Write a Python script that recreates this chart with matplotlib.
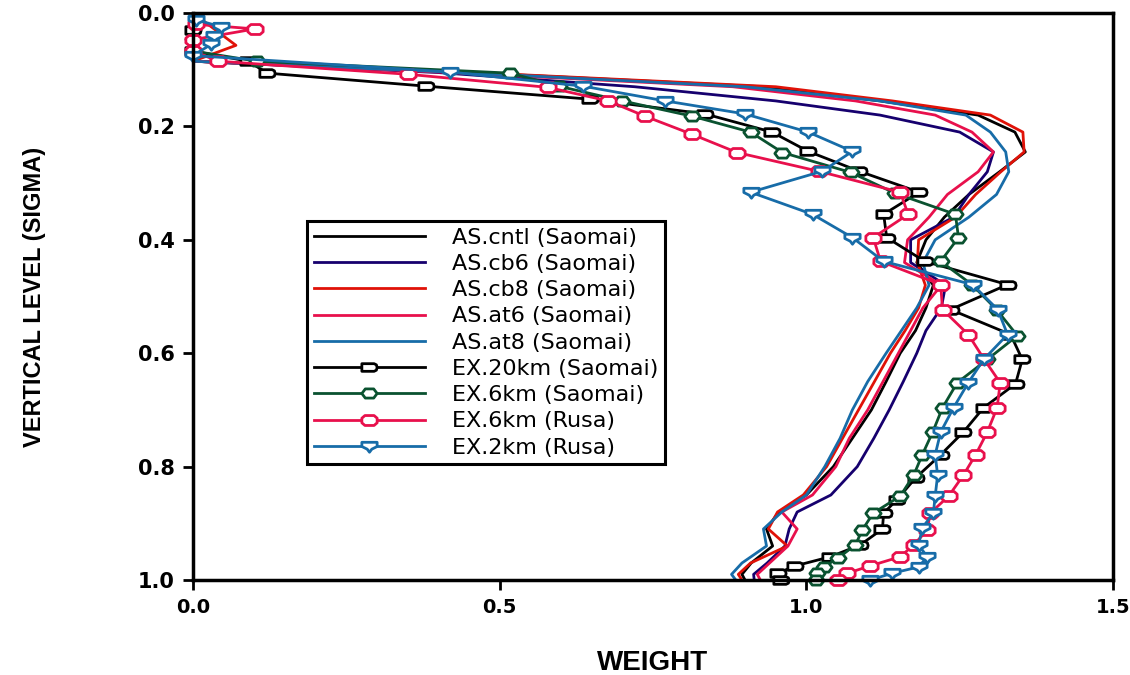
import numpy as np
import matplotlib
matplotlib.use("Agg")
from matplotlib import pyplot as plt
from matplotlib.path import Path

# Sigma levels used by the AS profiles
as_sigma = [0.0, 0.057, 0.085, 0.105, 0.13, 0.155, 0.18, 0.21, 0.245, 0.28, 0.32, 0.36, 0.40, 0.44,
            0.48, 0.52, 0.56, 0.60, 0.65, 0.70, 0.75, 0.80, 0.85, 0.88, 0.91, 0.94, 0.97, 0.99, 1.0]

as_cntl = [0.0, 0.0, 0.0, 0.45, 0.93, 1.12, 1.28, 1.34, 1.357, 1.315, 1.265, 1.225, 1.195, 1.18,
           1.207, 1.195, 1.178, 1.153, 1.13, 1.106, 1.075, 1.044, 1.0, 0.955, 0.935, 0.945, 0.91, 0.895, 0.90]
as_cb6 = [0.0, 0.0, 0.0, 0.40, 0.72, 0.95, 1.12, 1.25, 1.305, 1.295, 1.265, 1.24, 1.17, 1.17,
          1.227, 1.22, 1.195, 1.18, 1.158, 1.135, 1.11, 1.083, 1.04, 0.985, 0.972, 0.965, 0.936, 0.914, 0.915]
as_cb8 = [0.0, 0.07, 0.0, 0.46, 0.95, 1.14, 1.30, 1.353, 1.355, 1.317, 1.276, 1.243, 1.183, 1.181,
          1.194, 1.183, 1.161, 1.137, 1.111, 1.085, 1.059, 1.033, 0.995, 0.953, 0.938, 0.969, 0.909, 0.889, 0.895]
as_at6 = [0.0, 0.0, 0.0, 0.42, 0.88, 1.08, 1.21, 1.27, 1.305, 1.28, 1.23, 1.2, 1.165, 1.16,
          1.22, 1.19, 1.17, 1.15, 1.125, 1.1, 1.07, 1.048, 1.01, 0.96, 0.985, 0.97, 0.94, 0.92, 0.925]
as_at8 = [0.0, 0.0, 0.0, 0.44, 0.90, 1.12, 1.26, 1.30, 1.325, 1.33, 1.31, 1.265, 1.21, 1.19,
          1.2, 1.18, 1.155, 1.13, 1.1, 1.075, 1.055, 1.03, 1.0, 0.96, 0.93, 0.935, 0.895, 0.878, 0.885]

# EX.20km (Saomai)
ex20_sigma = [0.03, 0.067, 0.085, 0.106, 0.129, 0.152, 0.178, 0.210, 0.244, 0.279, 0.316, 0.355, 0.396, 0.438,
              0.479, 0.523, 0.567, 0.611, 0.654, 0.696, 0.739, 0.779, 0.820, 0.859, 0.882, 0.910,
              0.938, 0.959, 0.975, 0.988, 1.0]
ex20_w = [0.0, 0.0, 0.09, 0.121, 0.380, 0.648, 0.835, 0.944, 1.003, 1.086, 1.184, 1.126, 1.131, 1.193,
          1.328, 1.235, 1.333, 1.352, 1.341, 1.289, 1.256, 1.219, 1.178, 1.147, 1.126, 1.124,
          1.088, 1.039, 0.982, 0.953, 0.958]

# EX.6km (Saomai)
ex6s_sigma = [0.045, 0.067, 0.085, 0.106, 0.129, 0.155, 0.182, 0.210, 0.246, 0.281, 0.318, 0.355, 0.396,
              0.438, 0.479, 0.523, 0.569, 0.611, 0.652, 0.696, 0.739, 0.779, 0.815, 0.852, 0.882,
              0.912, 0.938, 0.961, 0.977, 0.988, 1.0]
ex6s_w = [0.0, 0.0, 0.104, 0.517, 0.596, 0.70, 0.814, 0.909, 0.961, 1.072, 1.145, 1.243, 1.248,
          1.219, 1.27, 1.31, 1.344, 1.295, 1.246, 1.222, 1.206, 1.189, 1.175, 1.153, 1.109,
          1.091, 1.08, 1.052, 1.028, 1.018, 1.015]

# EX.6km (Rusa)
ex6r_sigma = [0.02, 0.028, 0.047, 0.067, 0.085, 0.108, 0.131, 0.155, 0.182, 0.214, 0.246, 0.279, 0.316,
              0.355, 0.396, 0.438, 0.479, 0.523, 0.567, 0.611, 0.652, 0.696, 0.739, 0.779, 0.815,
              0.852, 0.882, 0.912, 0.938, 0.959, 0.975, 0.988, 1.0]
ex6r_w = [0.005, 0.101, 0.0, 0.0, 0.041, 0.35, 0.578, 0.677, 0.737, 0.814, 0.887, 1.02, 1.153,
          1.166, 1.109, 1.121, 1.219, 1.222, 1.264, 1.29, 1.316, 1.311, 1.295, 1.276, 1.256,
          1.232, 1.202, 1.197, 1.175, 1.153, 1.104, 1.067, 1.051]

# EX.2km (Rusa)
ex2r_sigma = [0.012, 0.024, 0.04, 0.055, 0.075, 0.104, 0.129, 0.155, 0.178, 0.21, 0.244, 0.279, 0.316,
              0.355, 0.396, 0.438, 0.479, 0.523, 0.567, 0.611, 0.652, 0.696, 0.739, 0.779, 0.815,
              0.852, 0.882, 0.908, 0.938, 0.959, 0.977, 0.988, 1.0]
ex2r_w = [0.005, 0.045, 0.035, 0.03, 0.0, 0.419, 0.636, 0.77, 0.90, 1.003, 1.075, 1.026, 0.909,
          1.01, 1.075, 1.126, 1.271, 1.312, 1.328, 1.289, 1.264, 1.240, 1.219, 1.210, 1.214,
          1.21, 1.207, 1.189, 1.183, 1.197, 1.183, 1.14, 1.104]

# colours
c_black = "#000000"
c_navy  = "#16006e"
c_red   = "#e01208"
c_pink  = "#e8104c"
c_blue  = "#176ca8"
c_green = "#0a5230"

# marker shapes
def mk(verts):
    verts = list(verts) + [verts[0]]
    codes = [Path.MOVETO] + [Path.LINETO] * (len(verts) - 2) + [Path.CLOSEPOLY]
    return Path(verts, codes)

m_pill  = mk([(-1, -0.5), (0.6, -0.5), (0.9, -0.35), (1, 0), (0.9, 0.35), (0.6, 0.5), (-1, 0.5)])
m_hex   = mk([(-1, 0), (-0.55, -0.6), (0.55, -0.6), (1, 0), (0.55, 0.6), (-0.55, 0.6)])
m_oct   = mk([(-1, -0.3), (-0.6, -0.65), (0.6, -0.65), (1, -0.3), (1, 0.3), (0.6, 0.65), (-0.6, 0.65), (-1, 0.3)])
m_shld  = mk([(-1, 0.55), (1, 0.55), (1, 0.0), (0.3, -0.35), (0.0, -0.75), (-0.3, -0.35), (-1, 0.0)])

fig = plt.figure(figsize=(11.3, 6.75), dpi=100)
ax = fig.add_axes([0.1708, 0.1407, 0.8142, 0.8400])

lw = 2.0
ax.plot(as_cntl, as_sigma, color=c_black, lw=lw, label="AS.cntl (Saomai)")
ax.plot(as_cb6, as_sigma, color=c_navy, lw=lw, label="AS.cb6 (Saomai)")
ax.plot(as_cb8, as_sigma, color=c_red, lw=lw, label="AS.cb8 (Saomai)")
ax.plot(as_at6, as_sigma, color=c_pink, lw=lw, label="AS.at6 (Saomai)")
ax.plot(as_at8, as_sigma, color=c_blue, lw=lw, label="AS.at8 (Saomai)")

ms = 11
mew = 2.0
ax.plot(ex20_w, ex20_sigma, color=c_black, lw=lw, marker=m_pill, ms=ms, mew=mew, mfc="white",
        label="EX.20km (Saomai)", clip_on=False)
ax.plot(ex6s_w, ex6s_sigma, color=c_green, lw=lw, marker=m_hex, ms=ms, mew=mew, mfc="white",
        label="EX.6km (Saomai)", clip_on=False)
ax.plot(ex6r_w, ex6r_sigma, color=c_pink, lw=lw, marker=m_oct, ms=ms, mew=mew, mfc="white",
        label="EX.6km (Rusa)", clip_on=False)
ax.plot(ex2r_w, ex2r_sigma, color=c_blue, lw=lw, marker=m_shld, ms=ms, mew=mew, mfc="white",
        label="EX.2km (Rusa)", clip_on=False)

ax.set_xlim(0, 1.5)
ax.set_ylim(1.0, 0.0)
ax.set_xticks([0.0, 0.5, 1.0, 1.5])
ax.set_yticks([0.0, 0.2, 0.4, 0.6, 0.8, 1.0])
ax.set_xticklabels(["0.0", "0.5", "1.0", "1.5"])
ax.set_yticklabels(["0.0", "0.2", "0.4", "0.6", "0.8", "1.0"])
for lab in ax.get_xticklabels() + ax.get_yticklabels():
    lab.set_fontweight("bold")
    lab.set_fontsize(14)
    lab.set_family("DejaVu Sans")
for lab in ax.get_yticklabels():
    lab.set_fontsize(15)
ax.tick_params(axis="both", direction="out", length=7, width=2, pad=6,
               top=False, right=False)
for sp in ax.spines.values():
    sp.set_linewidth(2.5)

ax.set_xlabel("WEIGHT", fontsize=20, fontweight="bold",
              family="Liberation Sans", labelpad=24)
ax.set_ylabel("VERTICAL LEVEL (SIGMA)", fontsize=17, fontweight="bold",
              family="Liberation Sans", labelpad=66)

leg = ax.legend(loc="upper left", bbox_to_anchor=(0.124, 0.633), numpoints=1,
                handlelength=5.0, handletextpad=1.2, labelspacing=0.28, borderpad=0.3,
                borderaxespad=0, fancybox=False, framealpha=1,
                prop={"family": "DejaVu Sans", "size": 16})
leg.get_frame().set_edgecolor("black")
leg.get_frame().set_linewidth(2.2)

fig.savefig("out.png", dpi=100)
